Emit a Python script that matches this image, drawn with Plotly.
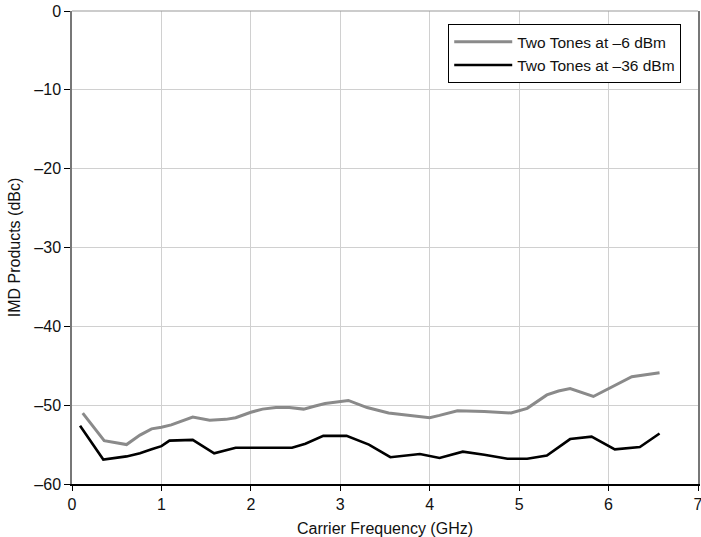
import plotly.graph_objects as go

freq_hi = [0.12, 0.36, 0.61, 0.76, 0.89, 1.00, 1.11, 1.35, 1.54, 1.72, 1.83, 2.00, 2.13, 2.28, 2.43,
           2.59, 2.72, 2.83, 3.09, 3.30, 3.54, 3.76, 4.00, 4.11, 4.31, 4.61, 4.91, 5.09, 5.31, 5.44,
           5.57, 5.83, 5.98, 6.26, 6.57]
imd_hi = [-51.0, -54.5, -55.0, -53.8, -53.0, -52.8, -52.5, -51.5, -51.9, -51.8, -51.6, -50.9, -50.5, -50.3, -50.3,
          -50.5, -50.1, -49.8, -49.4, -50.3, -51.0, -51.3, -51.6, -51.3, -50.7, -50.8, -51.0, -50.4, -48.7, -48.2,
          -47.9, -48.9, -48.0, -46.4, -45.9]

freq_lo = [0.09, 0.35, 0.61, 0.76, 0.89, 1.00, 1.09, 1.35, 1.59, 1.83, 2.24, 2.46, 2.61, 2.81, 3.07,
           3.32, 3.56, 3.89, 4.11, 4.37, 4.61, 4.87, 5.09, 5.31, 5.57, 5.81, 6.07, 6.35, 6.57]
imd_lo = [-52.6, -56.9, -56.5, -56.1, -55.6, -55.2, -54.5, -54.4, -56.1, -55.4, -55.4, -55.4, -54.9, -53.9, -53.9,
          -55.0, -56.6, -56.2, -56.7, -55.9, -56.3, -56.8, -56.8, -56.4, -54.3, -54.0, -55.6, -55.3, -53.6]

x_ticks = [0, 1, 2, 3, 4, 5, 6, 7]
y_ticks = [0, -10, -20, -30, -40, -50, -60]
y_tick_text = ["0", "–10", "–20", "–30", "–40", "–50", "–60"]

FAM = "Liberation Sans, Arial, Helvetica, sans-serif"
font = dict(family=FAM, size=16, color="#111111")

fig = go.Figure()
fig.add_trace(go.Scatter(x=freq_hi, y=imd_hi, mode="lines", name="Two Tones at –6 dBm",
                         line=dict(color="#8a8a8a", width=3)))
fig.add_trace(go.Scatter(x=freq_lo, y=imd_lo, mode="lines", name="Two Tones at –36 dBm",
                         line=dict(color="#000000", width=2.6)))

fig.update_layout(
    width=701, height=537,
    margin=dict(l=72, r=1, t=11, b=53),
    paper_bgcolor="white", plot_bgcolor="white",
    font=font,
    showlegend=True,
    legend=dict(x=0.601, y=0.972, xanchor="left", yanchor="top",
                bordercolor="#000000", borderwidth=1, bgcolor="white",
                font=dict(family=FAM, size=15.5, color="#111111"),
                itemwidth=58, tracegroupgap=0),
    xaxis=dict(range=[0, 7], tickvals=x_ticks, ticktext=[str(v) for v in x_ticks],
               showgrid=True, gridcolor="#d0d0d0", gridwidth=1,
               showline=True, linecolor="#000000", linewidth=1.5,
               ticks="outside", ticklen=5, tickcolor="#000000", tickwidth=1,
               zeroline=False, ticklabeloverflow="allow", automargin=False,
               title=dict(text="Carrier Frequency (GHz)",
                          font=dict(family=FAM, size=16, color="#111111"))),
    yaxis=dict(range=[-60, 0], tickvals=y_ticks, ticktext=y_tick_text,
               showgrid=True, gridcolor="#d0d0d0", gridwidth=1,
               showline=True, linecolor="#777777", linewidth=1.5, mirror=True,
               ticks="outside", ticklen=6, tickcolor="#000000", tickwidth=1,
               zeroline=False, automargin=True,
               title=dict(text="IMD Products (dBc)", standoff=10,
                          font=dict(family=FAM, size=16, color="#111111"))),
    shapes=[dict(type="line", xref="paper", yref="paper", x0=0, x1=1, y0=1, y1=1,
                 line=dict(color="#999999", width=1))],
)

fig.write_html("out.html", config={"displayModeBar": False},
               post_script="document.body.style.margin='0px';document.body.style.overflow='hidden';")
